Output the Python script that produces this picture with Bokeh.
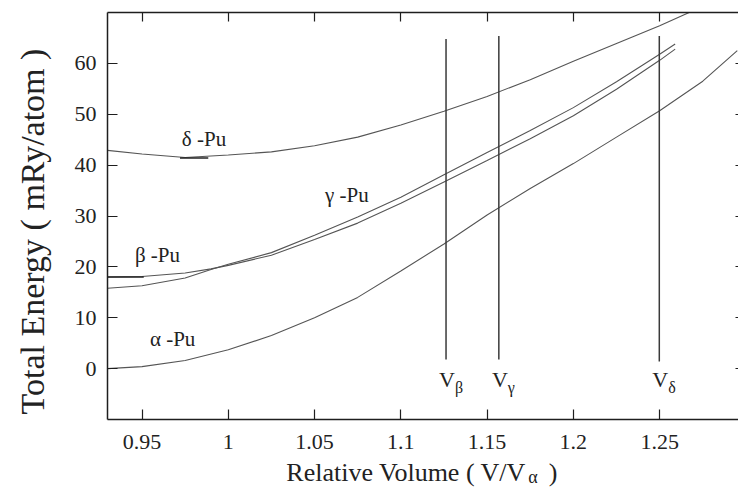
import math
from bokeh.plotting import figure
from bokeh.layouts import row, column
from bokeh.models import Range1d, LinearAxis, FixedTicker, ColumnDataSource
from bokeh.core.properties import value
from bokeh.embed import file_html
from bokeh.resources import INLINE

# ---------------- data ----------------
alpha_x = [0.93, 0.95, 0.975, 1.0, 1.025, 1.05, 1.075, 1.1, 1.125, 1.15, 1.175, 1.2, 1.225, 1.25, 1.275, 1.295]
alpha_e = [0.0, 0.4, 1.6, 3.7, 6.5, 10.0, 14.0, 19.2, 24.5, 30.2, 35.4, 40.3, 45.5, 50.7, 56.5, 62.5]

beta_x = [0.93, 0.95, 0.975, 0.99, 1.0, 1.025, 1.05, 1.075, 1.1, 1.125, 1.15, 1.175, 1.2, 1.225, 1.25, 1.259]
beta_e = [18.0, 18.1, 18.8, 19.6, 20.3, 22.3, 25.4, 28.6, 32.5, 36.7, 40.9, 45.2, 49.7, 54.9, 60.6, 62.8]

gamma_x = [0.93, 0.95, 0.975, 0.99, 1.0, 1.025, 1.05, 1.075, 1.1, 1.125, 1.15, 1.175, 1.2, 1.225, 1.25, 1.259]
gamma_e = [15.8, 16.3, 17.8, 19.5, 20.5, 22.8, 26.2, 29.8, 33.7, 38.1, 42.5, 46.8, 51.3, 56.4, 61.8, 63.8]

delta_x = [0.93, 0.95, 0.975, 1.0, 1.025, 1.05, 1.075, 1.1, 1.125, 1.15, 1.175, 1.2, 1.225, 1.25, 1.275]
delta_e = [42.9, 42.2, 41.5, 42.0, 42.6, 43.8, 45.5, 47.9, 50.6, 53.5, 56.8, 60.4, 63.9, 67.4, 71.2]

# equilibrium marks (short darker strokes)
mark_x0 = [0.93, 0.972]
mark_x1 = [0.951, 0.9884]
mark_e = [18.0, 41.4]

# phase volumes
v_names = ["β", "γ", "δ"]
v_x = [1.1262, 1.1568, 1.2498]
v_top = [64.8, 65.4, 65.4]
v_bottom = [1.8, 1.8, 1.4]
v_label_e = [-3.7, -3.7, -3.7]

# curve labels
phase_labels = ["α -Pu", "β -Pu", "γ -Pu", "δ -Pu"]
phase_label_x = [0.9546, 0.9459, 1.0561, 0.9731]
phase_label_e = [4.3, 20.8, 32.6, 43.6]

x_ticks = [0.95, 1.0, 1.05, 1.1, 1.15, 1.2, 1.25]
x_tick_labels = ["0.95", "1", "1.05", "1.1", "1.15", "1.2", "1.25"]
y_ticks = [0, 10, 20, 30, 40, 50, 60]

x_title = "Relative Volume ( V/V"
x_title_sub = "α"
x_title_end = ")"
y_title = "Total Energy ( mRy/atom )"

# ---------------- styling ----------------
FONT = "Liberation Serif"
AX = "#1e1e1e"
CURVE = "#555555"
TXT = "#222222"
LIFT = 0.37   # renderer places the alphabetic baseline ~0.37 em low; compensate

W, H = 738, 487
LEFT_W = 60            # strip holding the vertical axis title
BOTTOM_H = 29          # strip holding the horizontal axis title
MAIN_W, MAIN_H = W - LEFT_W, H - BOTTOM_H


def blank(width, height):
    f = figure(width=width, height=height, output_backend="svg", toolbar_location=None,
               x_range=Range1d(0, width), y_range=Range1d(0, height),
               x_axis_location=None, y_axis_location=None,
               min_border_left=0, min_border_right=0, min_border_top=0, min_border_bottom=0)
    f.grid.visible = False
    f.outline_line_color = None
    f.background_fill_color = "white"
    f.border_fill_color = "white"
    return f


# ---------------- main plot ----------------
p = figure(width=MAIN_W, height=MAIN_H, output_backend="svg", toolbar_location=None,
           x_range=Range1d(0.93, 1.2957), y_range=Range1d(-10, 70),
           min_border_left=107 - LEFT_W, min_border_right=0, min_border_top=12,
           min_border_bottom=MAIN_H - 419)
p.xgrid.visible = False
p.ygrid.visible = False
p.outline_line_color = None
p.background_fill_color = "white"
p.border_fill_color = "white"

bx = p.below[0]
ly = p.left[0]
for ax, ticks, standoff in [(bx, x_ticks, 15), (ly, y_ticks, 11)]:
    ax.ticker = FixedTicker(ticks=ticks)
    ax.major_tick_in = 10
    ax.major_tick_out = 0
    ax.minor_tick_line_color = None
    ax.major_tick_line_color = AX
    ax.major_tick_line_width = 1.2
    ax.axis_line_color = AX
    ax.axis_line_width = 1.5
    ax.major_label_text_font = FONT
    ax.major_label_text_font_size = "22px"
    ax.major_label_text_color = TXT
    ax.major_label_standoff = standoff
bx.major_label_overrides = {t: s for t, s in zip(x_ticks, x_tick_labels)}

# frame top / right: tick marks only (minor ticks carry no labels)
top_ax = LinearAxis(ticker=FixedTicker(ticks=[], minor_ticks=x_ticks))
right_ax = LinearAxis(ticker=FixedTicker(ticks=[], minor_ticks=y_ticks))
for ax, tin, line in [(top_ax, 9, AX), (right_ax, 3, None)]:
    ax.minor_tick_in = tin
    ax.minor_tick_out = 0
    ax.minor_tick_line_color = AX
    ax.minor_tick_line_width = 1.2
    ax.major_tick_line_color = None
    ax.axis_line_color = line
    ax.axis_line_width = 1.5
    ax.major_label_standoff = 0
p.add_layout(top_ax, "above")
p.add_layout(right_ax, "right")

for xs, es in [(alpha_x, alpha_e), (beta_x, beta_e), (gamma_x, gamma_e), (delta_x, delta_e)]:
    p.line(xs, es, line_color=CURVE, line_width=1.1)

p.segment(x0=mark_x0, y0=mark_e, x1=mark_x1, y1=mark_e, line_color="#222222", line_width=1.6)

vsrc = ColumnDataSource(dict(x=v_x, top=v_top, bottom=v_bottom, e=v_label_e,
                             sub=v_names, v=["V"] * len(v_names)))
p.segment(x0="x", y0="bottom", x1="x", y1="top", source=vsrc, line_color="#3a3a3a", line_width=1.5)
p.text(x="x", y="e", text="v", source=vsrc, text_font=value(FONT), text_font_size="22px",
       text_align="center", text_baseline="alphabetic", text_color=TXT,
       x_offset=1, y_offset=-round(LIFT * 22))
p.text(x="x", y="e", text="sub", source=vsrc, text_font=value(FONT), text_font_size="16px",
       text_align="left", text_baseline="alphabetic", text_color=TXT,
       x_offset=9, y_offset=6 - round(LIFT * 16))

p.text(x=phase_label_x, y=phase_label_e, text=phase_labels, text_font=value(FONT),
       text_font_size="21px", text_align="left", text_baseline="alphabetic", text_color=TXT,
       y_offset=-round(LIFT * 21))

# ---------------- axis titles ----------------
fy = blank(LEFT_W, H)
fy.text(x=[45 - LIFT * 34], y=[H - 231], text=[y_title], angle=math.pi / 2,
        text_font=value(FONT), text_font_size="34px", text_align="center",
        text_baseline="alphabetic", text_color=TXT)

fx = blank(MAIN_W, BOTTOM_H)
fx.text(x=[510 - LEFT_W], y=[H - 481.3], text=[x_title], text_font=value(FONT),
        text_font_size="26px", text_align="right", text_baseline="alphabetic", text_color=TXT,
        y_offset=-LIFT * 26)
fx.text(x=[512 - LEFT_W], y=[H - 483], text=[x_title_sub], text_font=value(FONT),
        text_font_size="18px", text_align="left", text_baseline="alphabetic", text_color=TXT,
        y_offset=-LIFT * 18)
fx.text(x=[534 - LEFT_W], y=[H - 481.3], text=[x_title_end], text_font=value(FONT),
        text_font_size="26px", text_align="left", text_baseline="alphabetic", text_color=TXT,
        y_offset=-LIFT * 26)

layout = row(fy, column(p, fx, spacing=0), spacing=0)

open("out.html", "w").write(file_html(layout, INLINE))
